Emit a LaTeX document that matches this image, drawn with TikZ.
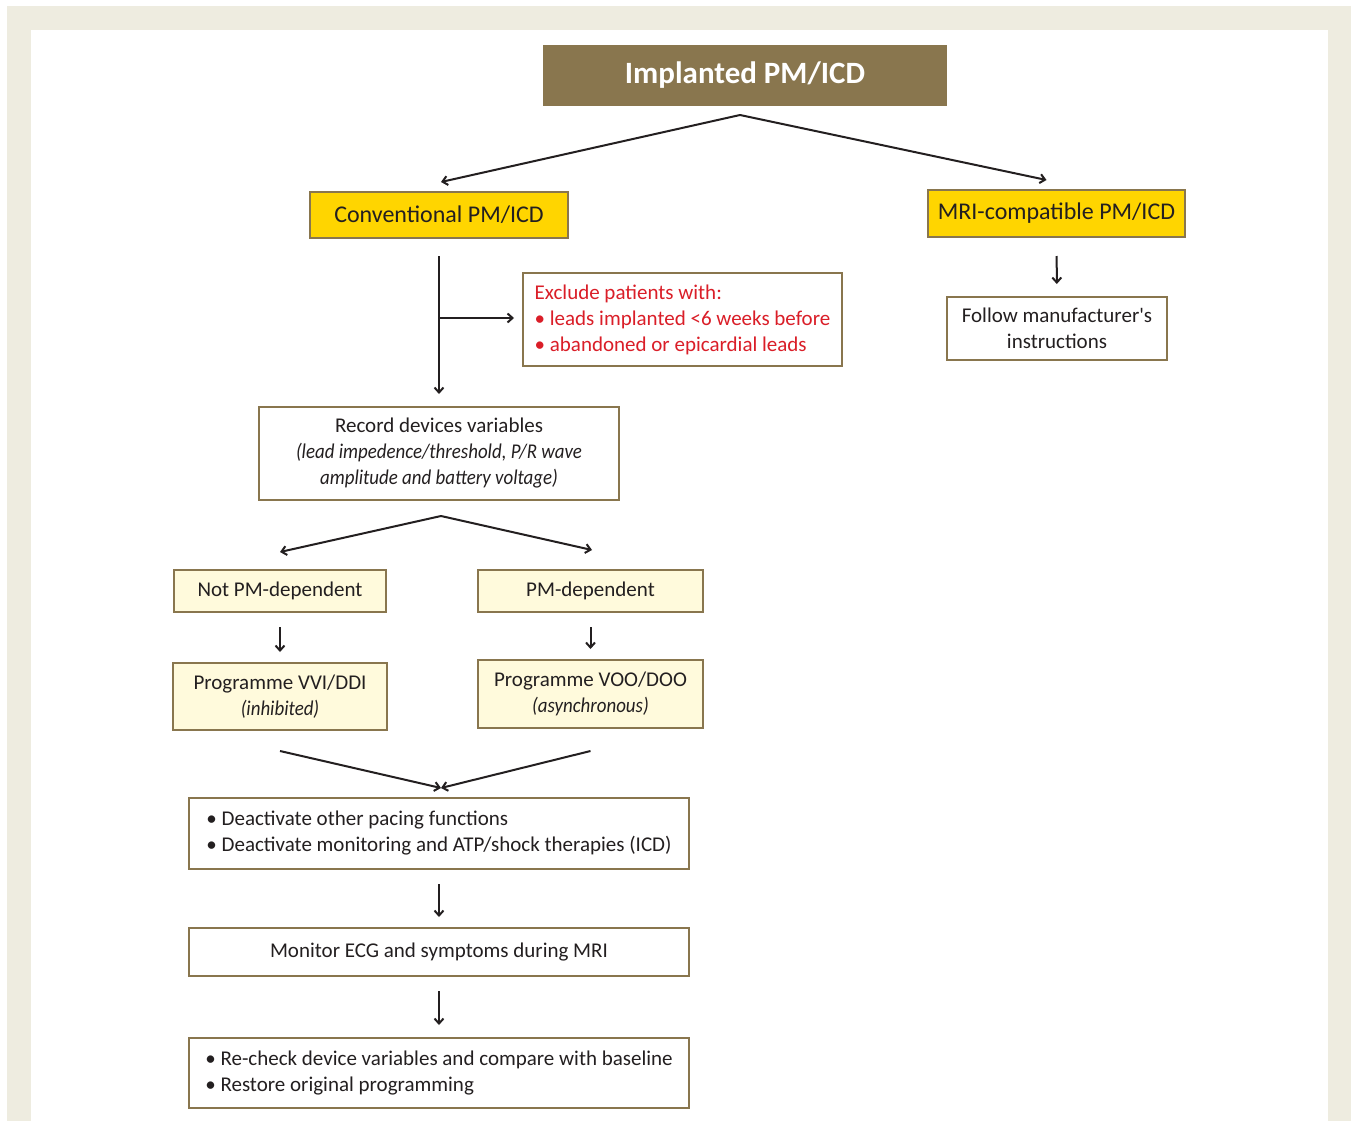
\documentclass[tikz,border=0pt]{standalone}
\usepackage{fontspec}
\setmainfont{Carlito}
\usetikzlibrary{arrows.meta}

\definecolor{framecream}{RGB}{238,236,224}
\definecolor{olive}{RGB}{137,118,78}
\definecolor{gold}{RGB}{255,213,0}
\definecolor{paleyellow}{RGB}{255,250,220}
\definecolor{alertred}{RGB}{218,30,40}
\definecolor{ink}{RGB}{35,31,32}

% narrow italic, closer to the original face
\newcommand{\narrowit}[1]{{\addfontfeatures{FakeStretch=0.9}\itshape #1}}

\tikzset{
  box/.style={draw=olive, line width=2pt, align=center, inner sep=0pt,
    text=ink, font=\fontsize{21}{26}\selectfont},
  bigbox/.style={box, fill=gold, font=\fontsize{24}{28}\selectfont},
  arr/.style={draw=ink, line width=2pt, -{Straight Barb[length=5pt,width=9pt]}},
}

\begin{document}
\begin{tikzpicture}[x=1pt,y=-1pt]
\useasboundingbox (0,0) rectangle (1354,1121);
% frame
\fill[framecream] (7,6) rectangle (1351,1121);
\fill[white] (31,30) rectangle (1328,1121);

% top row
\node[box, fill=olive, text=white, minimum width=402pt, minimum height=59pt,
  font=\fontsize{31}{34}\selectfont\bfseries] (implanted) at (745,75.5) {Implanted PM/ICD};
\node[bigbox, minimum width=258pt, minimum height=46pt] (conv) at (439,215) {Conventional PM/ICD};
\node[bigbox, minimum width=257pt, minimum height=47pt] (mricomp) at (1056.5,213.5) {MRI-compatible PM/ICD};
\node[box, fill=white, minimum width=220pt, minimum height=63pt] (follow) at (1057,328.5) {Follow manufacturer\textquotesingle s\\instructions};

% conventional branch
\node[box, fill=white, align=left, text=alertred, minimum width=319pt,
  minimum height=93pt] (exclude) at (682.5,319.5)
  {Exclude patients with:\\\textbullet\ leads implanted <6 weeks before\\\textbullet\ abandoned or epicardial leads};
\node[box, fill=white, minimum width=360pt, minimum height=93pt] (record) at (439,453.5)
  {Record devices variables\\\narrowit{(lead impedence/threshold, P/R wave}\\\narrowit{amplitude and battery voltage)}};

\node[box, fill=paleyellow, minimum width=212pt, minimum height=42pt] (notdep) at (280,591) {Not PM-dependent};
\node[box, fill=paleyellow, minimum width=225pt, minimum height=42pt] (pmdep) at (590.5,591) {PM-dependent};
\node[box, fill=paleyellow, minimum width=214pt, minimum height=67pt] (vvi) at (280,696.5) {Programme VVI/DDI\\\narrowit{(inhibited)}};
\node[box, fill=paleyellow, minimum width=225pt, minimum height=68pt] (voo) at (590.5,694) {Programme VOO/DOO\\\narrowit{(asynchronous)}};

\node[box, fill=white, align=left, minimum width=500pt, minimum height=71pt] (deact) at (439,833.5)
  {\textbullet\ Deactivate other pacing functions\\\textbullet\ Deactivate monitoring and ATP/shock therapies (ICD)};
\node[box, fill=white, minimum width=500pt, minimum height=48pt] (monitor) at (439,952) {Monitor ECG and symptoms during MRI};
\node[box, fill=white, align=left, minimum width=500pt, minimum height=70pt] (recheck) at (439,1073)
  {\textbullet\ Re-check device variables and compare with baseline\\\textbullet\ Restore original programming};

% connectors
\coordinate (topsplit) at (740,115);
\draw[arr] (topsplit) -- ([shift={(2,-9)}]conv.north);
\draw[arr] (topsplit) -- ([shift={(-10,-9)}]mricomp.north);
\draw[arr, shorten <=18pt, shorten >=12pt] (mricomp) -- (follow);

\draw[arr, shorten <=17pt, shorten >=12pt] (conv) -- (record);
\coordinate (branch) at (439,318);
\draw[arr, shorten >=8pt] (branch) -- (branch -| exclude.west);

\coordinate (recsplit) at (441,516);
\draw[arr] (recsplit) -- ([shift={(0,-17)}]notdep.north);
\draw[arr] (recsplit) -- ([shift={(1.5,-19)}]pmdep.north);
\draw[arr, shorten <=14pt, shorten >=10pt] (notdep) -- (vvi);
\draw[arr, shorten <=14pt, shorten >=10pt] (pmdep) -- (voo);

\coordinate (merge) at (441,788);
\draw[arr] ([yshift=-20pt]vvi.south) -- (merge);
\draw[arr] ([yshift=-22pt]voo.south) -- (merge);

\draw[arr, shorten <=14pt, shorten >=10pt] (deact) -- (monitor);
\draw[arr, shorten <=14pt, shorten >=12pt] (monitor) -- (recheck);
\end{tikzpicture}
\end{document}
